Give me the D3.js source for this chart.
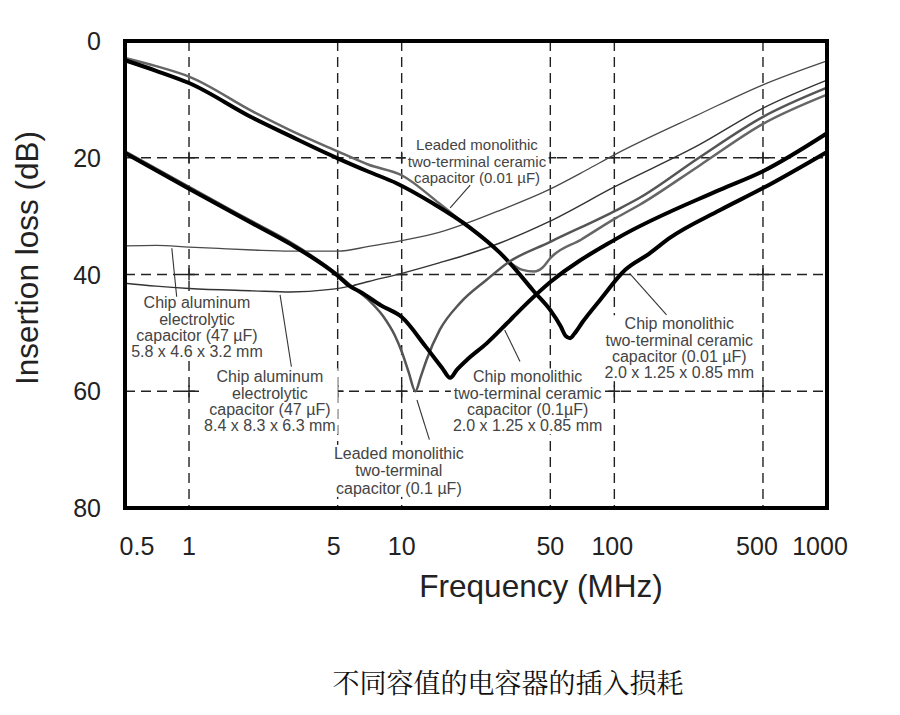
<!DOCTYPE html>
<html><head><meta charset="utf-8">
<script src="https://cdn.jsdelivr.net/npm/d3@7"></script>
<style>body{margin:0;background:#fff}svg{display:block}</style>
</head><body>
<svg id="chart" width="900" height="715"></svg>
<script>
// ---------------- data (frequency MHz, insertion loss dB) ----------------
const xTickValues = [0.5, 1, 5, 10, 50, 100, 500, 1000];
const xTickLabels = ["0.5", "1", "5", "10", "50", "100", "500", "1000"];
const yTickValues = [0, 20, 40, 60, 80];
const xGridValues = [1, 5, 10, 50, 100, 500];
const yGridValues = [20, 40, 60];

// Chip aluminum electrolytic 47 uF, 5.8 x 4.6 x 3.2 mm
const chipAlu58 = [[0.5,35.1],[0.7,35.0],[1,35.3],[1.5,35.6],[2,35.8],[3,36.0],[5,36.0],[7,35.2],[10,34.2],[15,32.8],[21,31.0],[29,29.0],[49,25.5],[74,22.1],[100,19.5],[252,12.5],[500,7.5],[1000,3.4]];
// Chip aluminum electrolytic 47 uF, 8.4 x 8.3 x 6.3 mm
const chipAlu84 = [[0.5,41.5],[0.7,42.0],[1,42.4],[2,42.8],[3,43.0],[4.5,42.6],[5.9,41.9],[7,41.2],[10,39.8],[15,38.0],[21,36.4],[29,34.6],[49,31.0],[100,25.0],[250,17.8],[500,11.5],[1000,6.7]];
// Leaded monolithic two-terminal ceramic 0.01 uF
const leaded001 = [[0.5,2.9],[0.7,4.3],[1,6.1],[2,12.1],[3,15.3],[5,18.9],[7,21.2],[10,23.0],[15,27.8],[20,31.5],[28,35.8],[33,38.2],[37,39.2],[42,39.5],[46,38.8],[50,37.2],[70,34.0],[102,30.3],[131,28.1],[250,21.4],[500,14.2],[1000,9.2]];
// Chip monolithic two-terminal ceramic 0.01 uF
const chip001 = [[0.5,3.3],[0.7,5.1],[1,7.2],[2,13.2],[3,16.3],[5,20.1],[7,22.4],[9.5,24.4],[14,27.8],[21,32.0],[29,36.3],[35,39.5],[41.4,42.7],[50,46.1],[56,48.9],[59,50.5],[62,50.9],[65,50.1],[71,48.1],[85.5,44.4],[112.6,39.2],[145,36.5],[183,33.7],[313,29.0],[500,25.2],[1000,19.0]];
// Leaded monolithic two-terminal 0.1 uF
const leaded01 = [[0.5,18.9],[1,25.0],[2,31.0],[3,34.5],[5,40.0],[5.9,42.2],[7,44.4],[8.2,47.2],[9.3,50.5],[10,53.2],[10.8,56.8],[11.6,60.0],[12.3,57.5],[13.1,54.6],[15.1,49.5],[18.8,44.9],[25.1,40.9],[31.2,38.1],[50,34.4],[102,29.0],[131,26.9],[250,20.0],[500,13.0],[1000,8.0]];
// Chip monolithic two-terminal ceramic 0.1 uF
const chip01 = [[0.5,19.2],[1,25.3],[2,31.3],[3,34.8],[5,40.2],[5.7,42.0],[6.4,43.0],[8,45.3],[10,47.3],[13,52.4],[15.5,56.0],[16.9,57.7],[18.2,56.3],[20.3,54.6],[25.1,51.8],[31.2,48.4],[36,46.1],[50,41.3],[102,33.9],[313,25.5],[500,22.3],[1000,15.8]];

const seriesNames = ["chipAlu58","chipAlu84","leaded001","chip001","leaded01","chip01"];
const seriesData = [chipAlu58, chipAlu84, leaded001, chip001, leaded01, chip01];

// annotation texts with anchor (MHz, dB of first line) and leader ends
const annoTexts = [
  ["Leaded monolithic","two-terminal ceramic","capacitor (0.01 µF)"],
  ["Chip aluminum","electrolytic","capacitor (47 µF)","5.8 x 4.6 x 3.2 mm"],
  ["Chip aluminum","electrolytic","capacitor (47 µF)","8.4 x 8.3 x 6.3 mm"],
  ["Leaded monolithic","two-terminal","capacitor (0.1 µF)"],
  ["Chip monolithic","two-terminal ceramic","capacitor (0.1µF)","2.0 x 1.25 x 0.85 mm"],
  ["Chip monolithic","two-terminal ceramic","capacitor (0.01 µF)","2.0 x 1.25 x 0.85 mm"]
];
const annoAnchors = [[22.6,17.8],[1.09,44.8],[2.4,57.5],[9.7,70.6],[39.1,57.5],[202,48.4]];
const annoLeaders = [
  [[21,24.7],[16.9,28.6]],
  [[0.83,35.5],[0.875,43.8]],
  [[2.68,43.5],[3.03,55.8]],
  [[11.8,61.5],[13.5,68.3]],
  [[30.5,49.5],[36,54.9]],
  [[118,39.8],[176,46.9]]
];
const captionText = "不同容值的电容器的插入损耗";

// ---------------- drawing ----------------
const svg = d3.select("#chart");
const x = d3.scaleLog().domain([0.5, 1000]).range([125, 827]);
const y = d3.scaleLinear().domain([0, 80]).range([41, 508]);
const FONT = "'Liberation Sans', Arial, Helvetica, sans-serif";

const styles = {
  chipAlu58: {stroke:"#4a4a4a", w:1.3},
  chipAlu84: {stroke:"#333", w:1.4},
  leaded001: {stroke:"#666", w:2.5},
  chip001:   {stroke:"#000", w:4},
  leaded01:  {stroke:"#555", w:2.5},
  chip01:    {stroke:"#000", w:4}
};

// grid
const gGrid = svg.append("g").attr("stroke","#222").attr("stroke-width",1.4).attr("fill","none");
gGrid.selectAll("line.v").data(xGridValues).join("line")
  .attr("x1",d=>x(d)).attr("x2",d=>x(d)).attr("y1",y(0)).attr("y2",y(80))
  .attr("stroke-dasharray","10,6");
gGrid.selectAll("line.h").data(yGridValues).join("line").attr("class","h")
  .attr("x1",x(0.5)).attr("x2",x(1000)).attr("y1",d=>y(d)).attr("y2",d=>y(d))
  .attr("stroke-dasharray","10,6");
const inter = [];
xGridValues.forEach(a=>yGridValues.forEach(b=>inter.push([a,b])));
gGrid.selectAll("path.cross").data(inter).join("path")
  .attr("d",d=>`M${x(d[0])-6},${y(d[1])}h12M${x(d[0])},${y(d[1])-6}v12`);

const gBg = svg.append("g");
const gCurves = svg.append("g");
const gLabels = svg.append("g");

const line = d3.line().x(d=>x(d[0])).y(d=>y(d[1])).curve(d3.curveMonotoneX);
seriesNames.forEach((n,i)=>{
  gCurves.append("path").datum(seriesData[i])
    .attr("d",line).attr("fill","none")
    .attr("stroke",styles[n].stroke).attr("stroke-width",styles[n].w)
    .attr("stroke-linejoin","round").attr("stroke-linecap","round");
});

annoTexts.forEach((lines,i)=>{
  const fs = i===0 ? 15 : 16;
  const lh = i===3 ? 17.5 : 16.3;
  const t = gLabels.append("text").attr("font-family",FONT).attr("font-size",fs)
    .attr("fill","#444").attr("text-anchor","middle");
  lines.forEach((s,k)=>{
    t.append("tspan").attr("x",x(annoAnchors[i][0]))
      .attr("y",y(annoAnchors[i][1]) + fs*0.36 + k*lh).text(s);
  });
  const bb = t.node().getBBox();
  gBg.append("rect").attr("x",bb.x-2).attr("y",bb.y).attr("width",bb.width+4).attr("height",bb.height)
    .attr("fill","#fff");
  gLabels.append("line")
    .attr("x1",x(annoLeaders[i][0][0])).attr("y1",y(annoLeaders[i][0][1]))
    .attr("x2",x(annoLeaders[i][1][0])).attr("y2",y(annoLeaders[i][1][1]))
    .attr("stroke","#333").attr("stroke-width",1.1);
});

// frame
svg.append("rect").attr("x",x(0.5)).attr("y",y(0)).attr("width",x(1000)-x(0.5)).attr("height",y(80)-y(0))
  .attr("fill","none").attr("stroke","#000").attr("stroke-width",4);

// tick labels
const xDx = {"0.5":12,"5":-4,"100":-2,"500":-6,"1000":-7};
svg.append("g").selectAll("text").data(xTickValues).join("text")
  .attr("x",(d,i)=>x(d)+(xDx[xTickLabels[i]]||0)).attr("y",555)
  .attr("text-anchor","middle").attr("font-family",FONT).attr("font-size",25).attr("fill","#222")
  .text((d,i)=>xTickLabels[i]);
svg.append("g").selectAll("text").data(yTickValues).join("text")
  .attr("x",101).attr("y",d=>y(d)+9).attr("text-anchor","end")
  .attr("font-family",FONT).attr("font-size",25).attr("fill","#222").text(d=>d);

// axis titles
svg.append("text").attr("x",541).attr("y",597).attr("text-anchor","middle")
  .attr("font-family",FONT).attr("font-size",31.5).attr("fill","#222").text("Frequency (MHz)");
svg.append("text").attr("transform","translate(38,258) rotate(-90)").attr("text-anchor","middle")
  .attr("font-family",FONT).attr("font-size",31.5).attr("fill","#222").text("Insertion loss (dB)");

// caption
svg.append("text").attr("x",508).attr("y",693).attr("text-anchor","middle")
  .attr("font-family","'Noto Serif CJK SC','Noto Sans CJK SC',serif").attr("font-size",27)
  .attr("fill","#111").text(captionText);
</script>
</body></html>
